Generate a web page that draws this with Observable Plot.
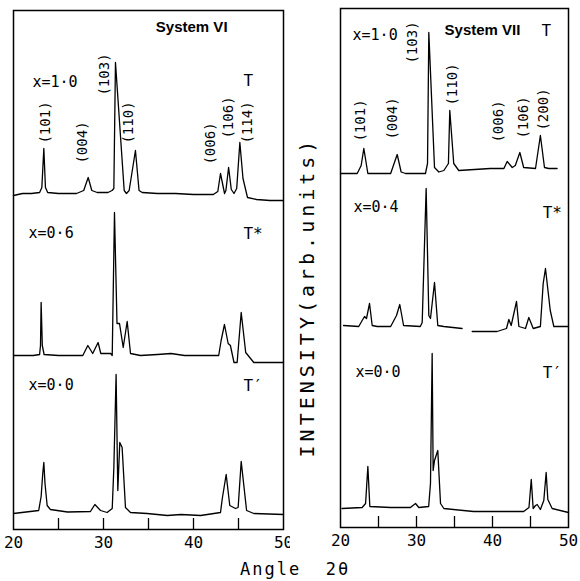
<!DOCTYPE html>
<html><head><meta charset="utf-8">
<script src="https://cdn.jsdelivr.net/npm/d3@7"></script>
<script src="https://cdn.jsdelivr.net/npm/@observablehq/plot@0.6"></script>
<style>
body{margin:0;background:#fff;}
#wrap{position:relative;width:580px;height:581px;overflow:hidden;font-family:"DejaVu Sans Mono",monospace;color:#000;}
#left,#right{position:absolute;top:0;}
#left{left:0}
#right{left:290px}
#xlab{position:absolute;left:240px;top:559px;font-size:17px;letter-spacing:2px;white-space:pre;line-height:20px;}
#ylab{position:absolute;left:137px;top:286px;width:340px;height:22px;line-height:22px;text-align:center;font-size:20px;letter-spacing:4px;transform:rotate(-90deg);white-space:nowrap;}
</style>
</head><body>
<div id="wrap">
  <div id="left"></div>
  <div id="right"></div>
  <div id="ylab">INTENSITY(arb.units)</div>
  <div id="xlab">Angle  2θ</div>
</div>
<script>
// ---------- data (angle 2θ, intensity above trace baseline, arb. units) ----------
const sysVI_x10 = [[20,-2],[21,0],[22,0],[22.9,1],[23.15,6],[23.37,45],[23.55,6],[23.8,1],[25,0],[27,0],[27.8,3],[28.3,16],[28.7,3],[29.3,1],[30.5,1],[30.95,3],[31.15,5],[31.33,131],[32.3,3],[32.55,0],[32.85,3],[33.55,43],[33.95,3],[34.3,1],[36,0],[38,0],[40,-1],[42.2,-1],[42.7,2],[43.0,20],[43.45,0],[43.6,3],[43.9,26],[44.2,4],[44.5,0],[44.8,5],[45.15,51],[45.5,15],[46.0,-4],[47,-6],[48.5,-7],[50,-7]];
const sysVI_x06 = [[20,0],[22.2,0],[22.9,1],[23.0,10],[23.07,53],[23.2,10],[23.4,1],[25,0],[27.7,0],[28.26,10],[28.8,2],[29.4,13],[29.7,2],[30.8,2],[30.97,0],[31.22,143],[31.5,32],[31.78,32],[32.19,8],[32.63,34],[33.0,2],[34.1,0],[36,1],[37.5,2],[39,0],[42.8,0],[43.07,15],[43.44,31],[43.85,12],[44.1,10],[44.5,-7],[44.85,-7],[45.3,43],[45.8,3],[46.7,-7],[50,-7]];
const sysVI_x00 = [[20,0],[22.8,3],[23.07,17],[23.25,40],[23.37,51],[23.5,30],[23.74,8],[24.1,4],[26,1.5],[28.55,2],[29.04,9],[29.67,3],[30.4,1],[30.97,5],[31.15,46],[31.4,139],[31.59,23],[31.81,71],[32.07,66],[32.44,6],[33.0,1],[34.85,0],[37.1,-2],[38.6,-1],[40.8,-2],[43.0,1],[43.2,15],[43.63,39],[44.03,8],[44.67,5],[44.96,6],[45.3,52],[45.9,3],[46.7,0],[50,-1]];
const sysVI_offsets = [336, 174, 16];

const sysVII_x10 = [[20,0],[22.2,0],[22.72,8],[23.07,25],[23.6,0],[26.6,0],[27.46,19],[27.98,1.5],[28.55,0],[31.18,0],[31.45,10],[31.62,141],[32.37,6],[32.94,1.5],[33.6,3],[34.2,10],[34.38,63],[34.9,10],[35.56,3],[39.7,5],[41.5,5],[41.93,12],[42.6,6],[43.0,8],[43.6,21],[44.1,6],[45.66,5],[46.3,38],[46.84,6],[47.4,5],[48.5,5]];
const sysVII_x04 = [[20.4,1],[22.4,0],[22.85,6],[23.16,10],[23.42,8],[23.82,23],[24.17,1],[24.83,0],[26.6,0],[27.37,11],[27.8,22],[28.3,1],[30.5,0],[30.75,4],[31.27,138],[31.62,11],[31.84,8],[32.37,44],[32.8,1],[33.6,0],[36.0,-2],[36.6,null],[37.33,-5],[40.6,-5],[41.84,-2],[42.15,7],[42.46,1],[43.16,25],[43.47,0],[44.34,-2],[44.78,9],[45.36,-2],[46.3,0],[46.67,43],[46.97,58],[47.6,16],[48.07,0],[50,0]];
const sysVII_x00 = [[20.2,0],[22.85,1],[23.3,5],[23.6,42],[23.86,2],[26.6,1],[29.2,1],[29.87,5],[30.3,1],[31.6,2],[31.84,25],[32.06,155],[32.19,38],[32.37,48],[32.8,58],[33.16,5],[33.6,0],[37.5,-3],[44.1,-3],[44.8,1],[45.1,29],[45.35,0],[45.66,3],[45.88,4],[46.3,-1],[46.75,8],[47.06,36],[47.28,9],[47.85,0],[50,-4]];
const sysVII_offsets = [354, 201, 19];

// reflection labels: [text, angle, height]
const sysVI_hkl = [["(101)",23.55,407],["(004)",27.67,387],["(103)",30.1,455],["(110)",32.8,407],["(006)",41.9,386],["(106)",43.9,412],["(114)",46.0,407]];
const sysVII_hkl = [["(101)",22.63,407],["(004)",26.84,409],["(103)",29.47,485],["(110)",34.74,443],["(006)",40.8,406],["(106)",44.08,410],["(200)",46.7,418]];
// composition and phase labels: [text, angle, height]
const sysVI_comp = [["x=1·0",22.1,447],["x=0·6",21.67,296],["x=0·0",21.67,144]];
const sysVI_phase = [["T",45.55,449],["T*",45.55,296],["T′",45.55,144]];
const sysVII_comp = [["x=1·0",21.58,492],["x=0·4",21.71,320],["x=0·0",21.97,155]];
const sysVII_phase = [["T",46.45,497],["T*",46.6,315],["T′",46.6,155]];
const titles = [["System VI",39.8,502],["System VII",38.68,497]];
const minorTicks = [25,30,35,40,45];
const tickLabels = [20,30,40,50];

function panel(traces, offsets, hkl, comp, phase, title, m) {
  const marks = [];
  traces.forEach((t, i) => {
    marks.push(Plot.line(t, {x: d => d[0], y: d => d[1] == null ? NaN : offsets[i] + d[1], stroke: "black", strokeWidth: 1.3}));
  });
  marks.push(Plot.ruleX(minorTicks, {y1: 0, y2: 11, stroke: "black", strokeWidth: 1.3}));
  marks.push(Plot.text(hkl, {x: d => d[1], y: d => d[2], text: d => d[0], rotate: -90, fontSize: 14, fontFamily: "DejaVu Sans Mono", fill: "black"}));
  marks.push(Plot.text(comp, {x: d => d[1], y: d => d[2], text: d => d[0], textAnchor: "start", fontSize: 15, fontFamily: "DejaVu Sans Mono", fill: "black"}));
  marks.push(Plot.text(phase, {x: d => d[1], y: d => d[2], text: d => d[0], textAnchor: "start", fontSize: 16, fontFamily: "DejaVu Sans Mono", fill: "black"}));
  marks.push(Plot.text([title], {x: d => d[1], y: d => d[2], text: d => d[0], fontSize: 15, fontWeight: "bold", fontFamily: "Liberation Sans, Arial, sans-serif", fill: "black"}));
  marks.push(Plot.frame({stroke: "black", strokeWidth: 1.5}));
  return Plot.plot({
    width: 290, height: 581,
    marginLeft: m.left, marginRight: m.right, marginTop: m.top, marginBottom: m.bottom,
    style: {fontSize: "16px", fontFamily: "DejaVu Sans Mono", color: "black", background: "white", overflow: "visible"},
    x: {domain: [20, 50], ticks: tickLabels, tickSize: 0, tickPadding: 7, label: null},
    y: {domain: [0, 519], axis: null},
    marks
  });
}

document.getElementById("left").append(panel([sysVI_x10, sysVI_x06, sysVI_x00], sysVI_offsets, sysVI_hkl, sysVI_comp, sysVI_phase, titles[0], {left: 13, right: 7, top: 10, bottom: 52}));
document.getElementById("right").append(panel([sysVII_x10, sysVII_x04, sysVII_x00], sysVII_offsets, sysVII_hkl, sysVII_comp, sysVII_phase, titles[1], {left: 50, right: 12, top: 8, bottom: 54}));
</script>
</body></html>
